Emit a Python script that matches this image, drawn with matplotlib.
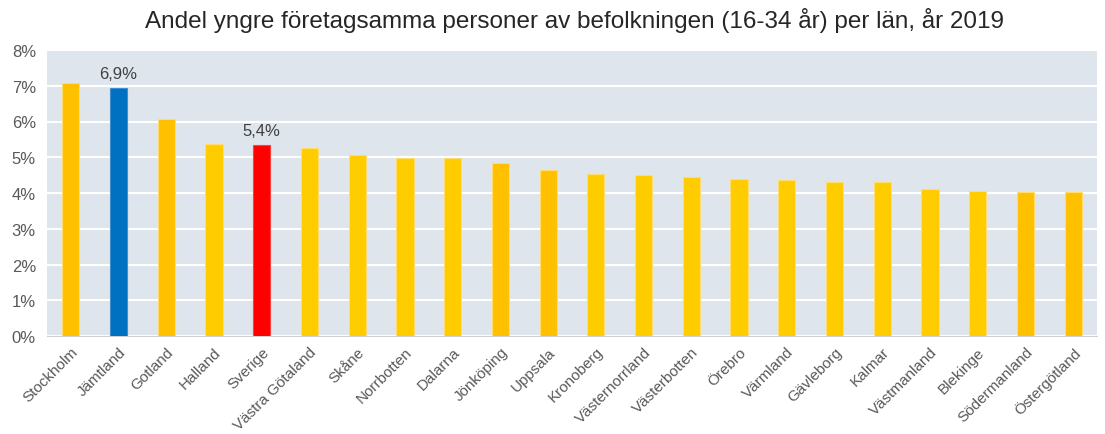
import matplotlib.pyplot as plt
import numpy as np

plt.rcParams['font.family'] = ['Liberation Sans', 'DejaVu Sans']

# Data
lan = ['Stockholm', 'Jämtland', 'Gotland', 'Halland', 'Sverige', 'Västra Götaland',
       'Skåne', 'Norrbotten', 'Dalarna', 'Jönköping', 'Uppsala', 'Kronoberg',
       'Västernorrland', 'Västerbotten', 'Örebro', 'Värmland', 'Gävleborg',
       'Kalmar', 'Västmanland', 'Blekinge', 'Södermanland', 'Östergötland']
andel = [7.07, 6.93, 6.07, 5.37, 5.35, 5.25,
         5.05, 4.99, 4.97, 4.83, 4.63, 4.52,
         4.49, 4.46, 4.40, 4.37, 4.32,
         4.31, 4.12, 4.05, 4.02, 4.02]
# which bars get a value label
etiketter = {'Jämtland': '6,9%', 'Sverige': '5,4%'}

orange = '#FFC000'
gul = '#FFCC00'
farger = {'Jämtland': '#0070C0', 'Sverige': '#FF0000',
          'Stockholm': orange, 'Gotland': orange, 'Jönköping': orange,
          'Uppsala': orange, 'Södermanland': orange, 'Östergötland': orange}
colors = [farger.get(n, gul) for n in lan]
kanter = {'Jämtland': '#3F8FD0', 'Sverige': '#FF4040'}
edges = [kanter.get(n, '#FFDD70') for n in lan]
text_grey = '#595959'

fig = plt.figure(figsize=(11.05, 4.35), dpi=100)
ax = fig.add_axes([47 / 1105, 1 - 337 / 435, 1050 / 1105, 286 / 435])
ax.set_facecolor('#DFE5EC')

x = np.arange(len(lan))
ax.bar(x, andel, width=0.36, color=colors, edgecolor=edges, linewidth=0.8, zorder=3)

for i, (n, v) in enumerate(zip(lan, andel)):
    if n in etiketter:
        ax.text(i, v + 0.2, etiketter[n], ha='center', va='bottom',
                fontsize=12, color='#404040', zorder=4)

ax.set_xlim(-0.5, len(lan) - 0.5)
ax.set_ylim(0, 8)
ax.set_yticks(range(9))
ax.set_yticklabels([f'{t}%' for t in range(9)], fontsize=12, color=text_grey)
ax.yaxis.grid(True, color='white', linewidth=1.5, zorder=1)
ax.set_axisbelow(True)

ax.set_xticks(x)
ax.set_xticklabels(lan, rotation=45, ha='right', rotation_mode='anchor',
                   fontsize=11, color=text_grey)
ax.tick_params(axis='y', length=0, pad=8)
ax.tick_params(axis='x', length=0, pad=6)

for s in ['top', 'right', 'left']:
    ax.spines[s].set_visible(False)
ax.spines['bottom'].set_color('#D0D0D0')

fig.text(0.52, 0.953, 'Andel yngre företagsamma personer av befolkningen (16-34 år) per län, år 2019',
         ha='center', va='center', fontsize=17.5, color='#262626')

fig.savefig('out.png', dpi=100)
